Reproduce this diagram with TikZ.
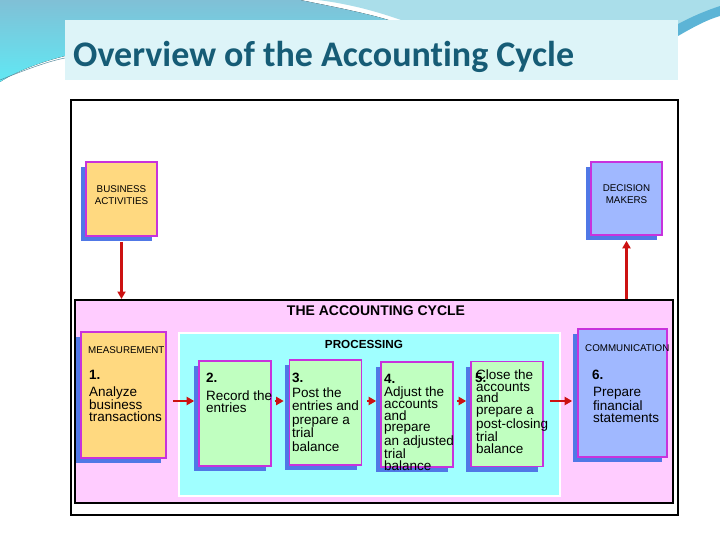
\documentclass[tikz,border=0pt]{standalone}
\usepackage{fontspec}
\setmainfont{Liberation Sans}
\newfontfamily\titlefont[Ligatures=NoCommon]{Carlito}
\usepackage{xcolor}
\usepackage{tikz}
\usetikzlibrary{arrows.meta,positioning,shadows}
\definecolor{ttlfill}{RGB}{221,244,248}
\definecolor{ttlink}{RGB}{22,92,118}
\definecolor{cyclepink}{RGB}{255,204,255}
\definecolor{proccyan}{RGB}{160,255,255}
\definecolor{actorange}{RGB}{255,217,128}
\definecolor{stepgreen}{RGB}{192,255,192}
\definecolor{commblue}{RGB}{160,184,255}
\definecolor{edgemag}{RGB}{200,50,220}
\definecolor{shadeblue}{RGB}{80,120,230}
\definecolor{flowred}{RGB}{204,17,17}
\definecolor{swoosh}{RGB}{128,192,214}
\definecolor{swooshlt}{RGB}{170,222,234}
\definecolor{swooshcy}{RGB}{96,232,244}
\definecolor{swooshdk}{RGB}{92,180,214}
\tikzset{
	blk/.style={draw=edgemag, line width=1.6pt, inner sep=0pt,
		general shadow={shadow xshift=-5pt, shadow yshift=-5pt, fill=shadeblue}},
	act/.style={blk, fill=actorange},
	stp/.style={blk, fill=stepgreen, minimum width=72, minimum height=105},
	com/.style={blk, fill=commblue},
	frm/.style={draw, line width=1.8pt, inner sep=0pt, anchor=north west},
	tag/.style={font=\fontsize{9.8}{12}\selectfont, inner sep=0pt, align=center},
	head/.style={font=\fontsize{14}{16}\selectfont\bfseries, inner sep=0pt},
	num/.style={font=\fontsize{13.5}{14}\selectfont\bfseries, inner sep=0pt, anchor=base west},
	txt/.style={font=\fontsize{13.5}{12}\selectfont, inner sep=0pt, align=left, anchor=north west},
	flow/.style={draw=flowred, line width=2.6pt, -{Triangle[length=7.5pt, width=8pt]}},
}
\begin{document}
\begin{tikzpicture}[x=1pt, y=-1pt, >=latex]
	\useasboundingbox (0,0) rectangle (720,540);
	\fill[top color=swoosh, bottom color=swooshcy] (0,0) -- (300,0) .. controls (340,8) and (380,16) .. (400,24) -- (65,24) -- (65,56) .. controls (40,62) and (15,72) .. (0,82) -- cycle;
	\fill[swooshlt] (318,0) -- (720,0) -- (720,10) .. controls (705,14) and (690,19) .. (678,24) -- (412,24) .. controls (380,12) and (350,4) .. (318,0) -- cycle;
	\fill[swooshdk] (678,24) .. controls (695,15) and (708,10) .. (720,6) -- (720,16) .. controls (706,20) and (692,28) .. (678,36) -- cycle;
	\draw[ttlink!70, line width=0.5pt] (0,80) .. controls (20,72) and (45,62) .. (65,58);
	\node[fill=ttlfill, minimum width=613, minimum height=60, inner sep=0pt, anchor=north west] at (65,20) (ttlbox) {};
	\node[font=\titlefont\bfseries\fontsize{36}{40}\selectfont, text=ttlink, anchor=base west, inner sep=0pt] at (73,67) (ttl) {Overview of the Accounting Cycle};
	\node[frm, minimum width=607, minimum height=415] at (70,99) (outer) {};
	\node[frm, fill=cyclepink, minimum width=598, minimum height=203] at (74,299) (cyc) {};
	\node[head] at (376,311) (cycl) {THE ACCOUNTING CYCLE};
	\node[fill=proccyan, draw=white, line width=2pt, inner sep=0pt, anchor=north west, minimum width=381, minimum height=163] at (178,332) (proc) {};
	\node[head, font=\fontsize{11.7}{14}\selectfont\bfseries] at (364,344) (procl) {PROCESSING};
	\node[act, minimum width=71, minimum height=74] at (121.5,199) (bus) {};
	\node[tag] at (121.5,195) (busl) {BUSINESS\\ACTIVITIES};
	\node[com, minimum width=71, minimum height=73] at (626.5,198.5) (dec) {};
	\node[tag] at (626.5,194) (decl) {DECISION\\MAKERS};
	\node[act, minimum width=85, minimum height=126] at (123.5,395) (meas) {};
	\node[stp] at (235,413.5) (rec) {};
	\node[stp] at (325.5,412.5) (post) {};
	\node[stp] at (417,414.5) (adj) {};
	\node[stp] at (507,414) (clo) {};
	\node[com, minimum width=89, minimum height=128] at (622.5,393) (fin) {};
	\node[tag, anchor=west] at (88,350) (measl) {MEASUREMENT};
	\node[num] at (89,379) (n1) {1.};
	\node[txt] at (89,386.3) (t1) {Analyze\\business\\transactions};
	\node[num] at (206,382) (n2) {2.};
	\node[txt] at (206,390.3) (t2) {Record the\\entries};
	\node[num] at (292,382) (n3) {3.};
	\node[txt, font=\fontsize{13.5}{13.5}\selectfont] at (292,387.3) (t3) {Post the\\entries and\\prepare a\\trial\\balance};
	\node[num] at (384,383) (n4) {4.};
	\node[txt, font=\fontsize{13.5}{11.5}\selectfont] at (384,386.3) (t4) {Adjust the\\accounts\\and\\prepare\\an adjusted\\trial\\balance};
	\node[num] at (475,382) (n5) {5.};
	\node[txt, font=\fontsize{13.5}{11.8}\selectfont] at (476,369.3) (t5) {Close the\\accounts\\and\\prepare a\\post-closing\\trial\\balance};
	\node[tag, anchor=west] at (585,348) (coml) {COMMUNICATION};
	\node[num] at (592,379) (n6) {6.};
	\node[txt] at (593,387.3) (t6) {Prepare\\financial\\statements};
	\coordinate (lane) at (0,401);
	\draw[flow, shorten <=5pt] (bus.south) -- (bus.south |- cyc.north);
	\draw[flow, shorten >=5pt] (dec.south |- cyc.north) -- (dec.south);
	\draw[flow, shorten <=6pt, shorten >=4pt] (meas.east |- lane) -- (rec.west |- lane);
	\draw[flow, shorten <=3pt, shorten >=5pt] (rec.east |- lane) -- (post.west |- lane);
	\draw[flow, shorten <=5pt, shorten >=4pt] (post.east |- lane) -- (adj.west |- lane);
	\draw[flow, shorten <=3pt, shorten >=4pt] (adj.east |- lane) -- (clo.west |- lane);
	\draw[flow, shorten <=6pt, shorten >=5pt] (clo.east |- lane) -- (fin.west |- lane);
\end{tikzpicture}
\end{document}
